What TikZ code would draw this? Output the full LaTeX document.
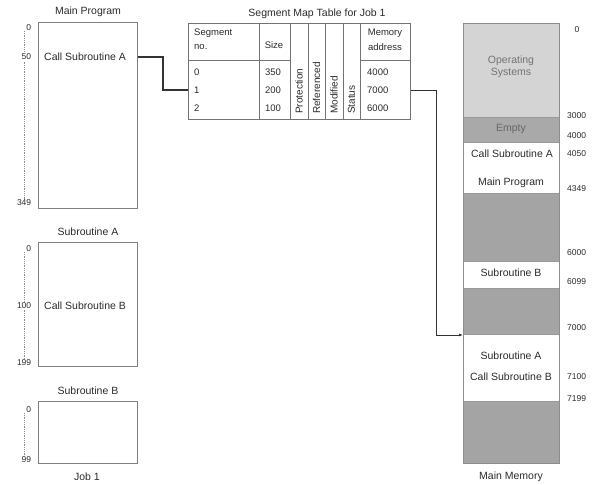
\documentclass[tikz,border=0pt]{standalone}
\usepackage{fontspec}
\setmainfont{Liberation Sans}
\usetikzlibrary{arrows.meta}
\definecolor{osgray}{HTML}{D4D4D4}
\definecolor{emgray}{HTML}{A9A9A9}
\definecolor{blkgray}{HTML}{A4A4A4}
\definecolor{txtc}{HTML}{2A2A2A}
\begin{document}
\begin{tikzpicture}[x=1pt,y=-1pt,
  font=\fontsize{10.5}{12}\selectfont,
  txt/.style={text=txtc, inner sep=0pt},
  boxp/.style={draw=black!50, line width=0.9pt, inner sep=0pt, anchor=north west, minimum width=99pt},
  num/.style={font=\fontsize{8.5}{10}\selectfont, text=txtc, fill=white, inner sep=0.6pt, anchor=east},
  mnum/.style={font=\fontsize{8.5}{10}\selectfont, text=txtc, inner sep=0pt, anchor=west},
  ruler/.style={draw=black!45, densely dotted, line width=0.8pt},
  conn/.style={draw=black!80, line width=1.3pt},
  conn2/.style={draw=black!80, line width=0.9pt},
  tline/.style={draw=black!55, line width=0.8pt},
  seg/.style={draw=black!40, line width=0.5pt, anchor=north west, minimum width=96pt, inner sep=0pt},
  rot/.style={txt, rotate=90, anchor=west}
]
\useasboundingbox (0,0) rectangle (595,485);

% ---------- Job 1 ----------
\node[txt] (mpt) at (88,12) {Main Program};
\coordinate (r1t) at (24,31);
\coordinate (r1b) at (24,206);
\draw[ruler] (r1t) -- (r1b);
\node[boxp, minimum height=186pt] (mp) at (38,22) {};
\node[txt, anchor=west] (callA) at (44,57) {Call Subroutine A};
\node[num] (n0a) at (32,28) {0};
\node[num] (n50) at (32,57) {50};
\node[num] (n349) at (32,203) {349};

\node[txt] (sat) at (88,232) {Subroutine A};
\coordinate (r2t) at (24,252);
\coordinate (r2b) at (24,364);
\draw[ruler] (r2t) -- (r2b);
\node[boxp, minimum height=124pt] (sa) at (38,242) {};
\node[txt, anchor=west] (callB) at (44,306) {Call Subroutine B};
\node[num] (n0b) at (32,249) {0};
\node[num] (n100) at (32,306) {100};
\node[num] (n199) at (32,363) {199};

\node[txt] (sbt) at (88,391) {Subroutine B};
\coordinate (r3t) at (24,413);
\coordinate (r3b) at (24,460);
\draw[ruler] (r3t) -- (r3b);
\node[boxp, minimum height=62pt] (sb) at (38,401) {};
\node[num] (n0c) at (32,410) {0};
\node[num] (n99) at (32,460) {99};
\node[txt] (job) at (87,477) {Job 1};

% ---------- Segment map table ----------
\node[txt] (smtt) at (317,14) {Segment Map Table for Job 1};
\node[tline, anchor=north west, minimum width=222pt, minimum height=96pt, inner sep=0pt] (smt) at (188,23) {};
\foreach \xx in {259,290,308,325,343,360}{
  \draw[tline] (\xx,23) -- (\xx,119);
}
\draw[tline] (188,60) -- (290,60);
\draw[tline] (360,60) -- (410,60);
\begin{scope}[font=\fontsize{9.5}{11}\selectfont]
\node[txt, anchor=west] (hseg) at (194,33) {Segment};
\node[txt, anchor=west] (hno) at (194,47) {no.};
\node[txt] (hsize) at (274,45) {Size};
\node[txt] (hmem) at (385,33) {Memory};
\node[txt] (hadd) at (385,47) {address};
\node[txt, anchor=west] (r0) at (194,72) {0};
\node[txt, anchor=west] (r1) at (194,90) {1};
\node[txt, anchor=west] (r2) at (194,108) {2};
\node[txt] (s0) at (273,72) {350};
\node[txt] (s1) at (273,90) {200};
\node[txt] (s2) at (273,108) {100};
\node[txt, anchor=west] (m0) at (367,72) {4000};
\node[txt, anchor=west] (m1) at (367,90) {7000};
\node[txt, anchor=west] (m2) at (367,108) {6000};
\end{scope}
\begin{scope}[font=\fontsize{10}{11}\selectfont]
\node[rot] (cprot) at (299,114) {Protection};
\node[rot] (cref) at (316.5,114) {Referenced};
\node[rot] (cmod) at (334,114) {Modified};
\node[rot] (cstat) at (351.5,114) {Status};
\end{scope}

% ---------- Main memory ----------
\node[seg, fill=osgray, minimum height=94pt] (os) at (463,23) {};
\node[seg, fill=emgray, minimum height=25pt] (empty) at (463,117) {};
\node[seg, fill=white, minimum height=51pt] (mps) at (463,142) {};
\node[seg, fill=blkgray, minimum height=68pt] (g1) at (463,193) {};
\node[seg, fill=white, minimum height=27pt] (sbs) at (463,261) {};
\node[seg, fill=blkgray, minimum height=46pt] (g2) at (463,288) {};
\node[seg, fill=white, minimum height=67pt] (sas) at (463,334) {};
\node[seg, fill=blkgray, minimum height=62pt] (g3) at (463,401) {};
\draw[draw=black!45, line width=0.8pt] (os.north west) rectangle (g3.south east);

\node[txt, text=black!55, align=center] (ost) at (511,67) {Operating\\Systems};
\node[txt, text=black!60] (emt) at (511,129) {Empty};
\node[txt] (mca) at (512,154) {Call Subroutine A};
\node[txt] (mmp) at (511,183) {Main Program};
\node[txt] (msb) at (511,273) {Subroutine B};
\node[txt] (msa) at (511,356) {Subroutine A};
\node[txt] (mcb) at (511,377) {Call Subroutine B};
\node[txt] (mm) at (511,477) {Main Memory};

\node[mnum, anchor=center] (a0) at (577,30) {0};
\node[mnum] (a3000) at (567,116) {3000};
\node[mnum] (a4000) at (567,136) {4000};
\node[mnum] (a4050) at (567,154) {4050};
\node[mnum] (a4349) at (567,189) {4349};
\node[mnum] (a6000) at (567,253) {6000};
\node[mnum] (a6099) at (567,282) {6099};
\node[mnum] (a7000) at (567,328) {7000};
\node[mnum] (a7100) at (567,377) {7100};
\node[mnum] (a7199) at (567,399) {7199};

% ---------- connectors ----------
\coordinate (tgt) at ([yshift=-1pt]sas.north west);
\draw[conn] (mp.east |- callA) -- ++(25,0) |- (smt.west |- r1);
\draw[conn2, -{Latex[length=4pt,width=3pt]}] (smt.east |- r1) -- ++(26,0) |- (tgt);
\end{tikzpicture}
\end{document}
